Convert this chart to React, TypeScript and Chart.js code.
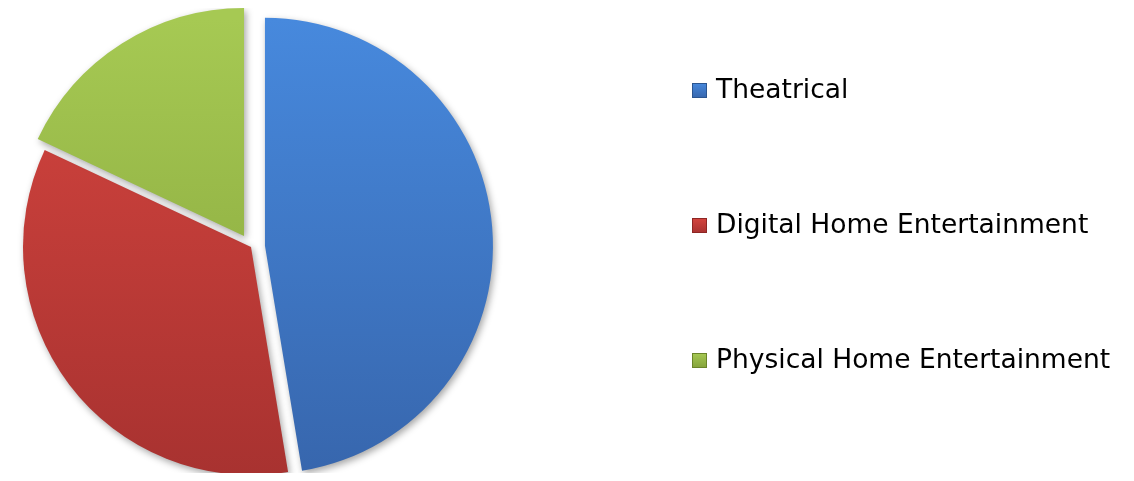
import React, { useEffect, useRef } from 'react';
import { Chart, registerables } from 'chart.js';

Chart.register(...registerables);

const categories = ['Theatrical', 'Digital Home Entertainment', 'Physical Home Entertainment'];
const shares = [47.4, 34.6, 18.0];
const explode = [14, 0, 13];
const topColors = ['#4789DD', '#D5453F', '#A6C953'];
const bottomColors = ['#3766AD', '#A83230', '#84A23A'];
const edgeColors = ['#2B5590', '#8E2624', '#6A8429'];

const PIE_RADIUS = 228;

const explodePlugin = {
  id: 'explodeSlices',
  afterDatasetUpdate(chart: any, args: any) {
    const meta = chart.getDatasetMeta(args.index);
    meta.data.forEach((arc: any, i: number) => {
      const mid = (arc.startAngle + arc.endAngle) / 2;
      const e = explode[i] || 0;
      arc.x += Math.cos(mid) * e;
      arc.y += Math.sin(mid) * e;
    });
  },
};

const shadowPlugin = {
  id: 'sliceShadow',
  beforeDatasetsDraw(chart: any) {
    const ctx = chart.ctx;
    ctx.save();
    ctx.shadowColor = 'rgba(0,0,0,0.35)';
    ctx.shadowBlur = 7;
    ctx.shadowOffsetX = 2;
    ctx.shadowOffsetY = 3;
  },
  afterDatasetsDraw(chart: any) {
    chart.ctx.restore();
  },
};

const legendPlugin = {
  id: 'sideLegend',
  afterDraw(chart: any) {
    const ctx = chart.ctx;
    const boxX = 684;
    const textX = 708;
    const firstBaseline = 90;
    const step = 135;
    const box = 15;
    ctx.save();
    ctx.font = '26.5px "DejaVu Sans", Verdana, sans-serif';
    ctx.textBaseline = 'alphabetic';
    ctx.textAlign = 'left';
    categories.forEach((label, i) => {
      const base = firstBaseline + i * step;
      const top = base - box;
      const g = ctx.createLinearGradient(0, top, 0, top + box);
      g.addColorStop(0, topColors[i]);
      g.addColorStop(1, bottomColors[i]);
      ctx.fillStyle = g;
      ctx.fillRect(boxX, top, box, box);
      ctx.strokeStyle = edgeColors[i];
      ctx.lineWidth = 1;
      ctx.strokeRect(boxX + 0.5, top + 0.5, box - 1, box - 1);
      ctx.fillStyle = '#000000';
      ctx.fillText(label, textX, base);
    });
    ctx.restore();
  },
};

export default function App() {
  const canvasRef = useRef<HTMLCanvasElement | null>(null);

  useEffect(() => {
    const canvas = canvasRef.current;
    if (!canvas) return;
    const gradCache: Record<string, CanvasGradient> = {};
    const fill = (c: any) => {
      const chart = c.chart;
      const area = chart.chartArea;
      const i = c.dataIndex;
      if (!area) return topColors[i];
      const cy = (area.top + area.bottom) / 2;
      const key = `${i}-${cy}`;
      if (!gradCache[key]) {
        const g = chart.ctx.createLinearGradient(0, cy - PIE_RADIUS, 0, cy + PIE_RADIUS);
        g.addColorStop(0, topColors[i]);
        g.addColorStop(1, bottomColors[i]);
        gradCache[key] = g;
      }
      return gradCache[key];
    };
    const chart = new Chart(canvas, {
      type: 'pie',
      data: {
        labels: categories,
        datasets: [
          {
            data: shares,
            backgroundColor: fill,
            borderWidth: 0,
            radius: PIE_RADIUS,
            clip: false,
          } as any,
        ],
      },
      options: {
        animation: false,
        responsive: true,
        maintainAspectRatio: false,
        layout: { padding: { top: 13, right: 632, bottom: 0, left: 0 } },
        plugins: {
          legend: { display: false },
          tooltip: { enabled: false },
        },
      },
      plugins: [explodePlugin, shadowPlugin, legendPlugin],
    });
    return () => chart.destroy();
  }, []);

  return (
    <div style={{ position: 'relative', width: '1118px', height: '465px' }}>
      <canvas ref={canvasRef} />
    </div>
  );
}
